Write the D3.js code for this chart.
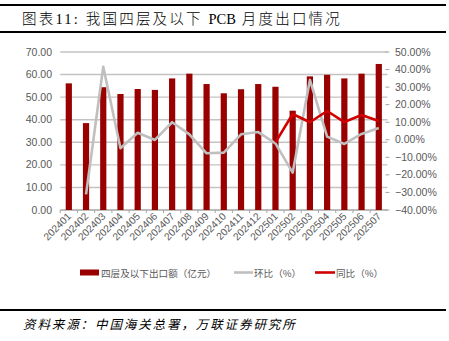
<!DOCTYPE html>
<html><head><meta charset="utf-8">
<script src="https://cdn.jsdelivr.net/npm/d3@7"></script>
<style>body{margin:0;background:#fff;}svg{display:block;}</style>
</head><body>
<svg id="c" width="449" height="341"></svg>
<script>
const categories = ["202401","202402","202403","202404","202405","202406","202407","202408","202409","202410","202411","202412","202501","202502","202503","202504","202505","202506","202507"];
const exportValues = [56.1,38.5,54.4,51.4,53.6,53.2,58.3,60.4,55.8,51.7,53.5,55.8,54.6,44.0,59.2,59.9,58.3,60.4,64.7];
const momValues = [null,-31.1,41.6,-4.8,4.0,-0.1,10.0,3.1,-7.7,-7.3,3.1,4.4,-2.0,-18.7,34.1,1.8,-2.4,3.3,6.7];
const yoyValues = [null,null,null,null,null,null,null,null,null,null,null,null,-1.5,14.7,10.0,16.4,10.1,14.1,10.7];
const leftTicks = [0,10,20,30,40,50,60,70];
const rightTicks = [-40,-30,-20,-10,0,10,20,30,40,50];
const legendLabels = ["四层及以下出口额（亿元）","环比（%）","同比（%）"];
const titleParts = ["图表11: 我国四层及以下 ","PCB"," 月度出口情况"];
const sourceText = "资料来源：中国海关总署，万联证券研究所";

(function(){
const svg = d3.select("#c");
const pL = 60.2, pR = 387.4, pT = 52, pB = 210;
const x = d3.scaleBand().domain(categories).range([pL, pR]).padding(0);
const yL = d3.scaleLinear().domain([0,70]).range([pB, pT]);
const yR = d3.scaleLinear().domain([-40,50]).range([pB, pT]);
const labelFont = "'Liberation Sans', Arial, sans-serif";
const cjk = "'Noto Sans CJK SC', sans-serif";

svg.append("rect").attr("x",0).attr("y",4).attr("width",446).attr("height",2).attr("fill","#000");
svg.append("rect").attr("x",0).attr("y",31).attr("width",446).attr("height",2).attr("fill","#000");
const tt = svg.append("text").attr("x",22).attr("y",24).attr("font-size",14.5)
  .attr("font-weight",300)
  .attr("font-family","'Liberation Serif', 'Noto Sans CJK SC', serif").attr("fill","#000");
tt.selectAll("tspan").data(titleParts).join("tspan")
  .attr("letter-spacing",(d,i)=>i===1?0:2.2).text(d=>d);

svg.append("g").selectAll("line").data(leftTicks).join("line")
  .attr("x1",pL).attr("x2",pR).attr("y1",d=>yL(d)).attr("y2",d=>yL(d))
  .attr("stroke",d=>d===0?"#a6a6a6":"#c3c3c3").attr("stroke-width",1.4);

svg.append("g").selectAll("text").data(leftTicks).join("text")
  .attr("x",52).attr("y",d=>yL(d)+3.5).attr("text-anchor","end")
  .attr("font-size",10.5).attr("font-family",labelFont).attr("fill","#595959")
  .text(d=>d3.format(".2f")(d));

svg.append("g").selectAll("line").data(rightTicks).join("line")
  .attr("x1",pR-2).attr("x2",pR+2).attr("y1",d=>yR(d)).attr("y2",d=>yR(d))
  .attr("stroke","#a6a6a6").attr("stroke-width",1);
svg.append("g").selectAll("text").data(rightTicks).join("text")
  .attr("x",395).attr("y",d=>yR(d)+3.5).attr("text-anchor","start")
  .attr("font-size",10.5).attr("font-family",labelFont).attr("fill","#595959")
  .text(d=>d3.format(".2f")(d)+"%");

const bw = 6.2;
svg.append("g").selectAll("rect").data(categories).join("rect")
  .attr("x",(d)=>x(d)+x.bandwidth()/2-bw/2).attr("width",bw)
  .attr("y",(d,i)=>yL(exportValues[i])).attr("height",(d,i)=>yL(0)-yL(exportValues[i]))
  .attr("fill","#990000");

svg.append("g").selectAll("line").data(categories).join("line")
  .attr("x1",d=>x(d)).attr("x2",d=>x(d)).attr("y1",pB).attr("y2",pB+3)
  .attr("stroke","#a6a6a6").attr("stroke-width",1);

svg.append("g").selectAll("text").data(categories).join("text")
  .attr("transform",d=>`translate(${x(d)+x.bandwidth()/2+3},${pB+7}) rotate(-45)`)
  .attr("text-anchor","end").attr("font-size",10.2).attr("font-family",labelFont).attr("fill","#595959")
  .text(d=>d);

const cx = d=>x(d)+x.bandwidth()/2;
const mk = (vals)=>d3.line().defined((d,i)=>vals[i]!==null).x(d=>cx(d)).y((d,i)=>yR(vals[i]));
svg.append("path").attr("d",mk(momValues)(categories)).attr("fill","none")
  .attr("stroke","#bfbfbf").attr("stroke-width",2.6).attr("stroke-linejoin","round");
svg.append("path").attr("d",mk(yoyValues)(categories)).attr("fill","none")
  .attr("stroke","#d00000").attr("stroke-width",2.6).attr("stroke-linejoin","round");

const lg = svg.append("g").attr("font-size",9.6).attr("font-family",cjk).attr("fill","#595959");
lg.append("rect").attr("x",80).attr("y",269.5).attr("width",19).attr("height",6).attr("fill","#990000");
lg.append("text").attr("x",101).attr("y",276.5).text(legendLabels[0]);
lg.append("line").attr("x1",234).attr("x2",253).attr("y1",272.5).attr("y2",272.5).attr("stroke","#bfbfbf").attr("stroke-width",2.6);
lg.append("text").attr("x",254).attr("y",276.5).text(legendLabels[1]);
lg.append("line").attr("x1",315).attr("x2",335).attr("y1",272.5).attr("y2",272.5).attr("stroke","#d00000").attr("stroke-width",2.6);
lg.append("text").attr("x",336).attr("y",276.5).text(legendLabels[2]);

svg.append("rect").attr("x",0).attr("y",309).attr("width",446).attr("height",2).attr("fill","#000");
svg.append("text").attr("x",23).attr("y",329).attr("font-size",12.5).attr("font-style","italic").attr("letter-spacing",1.9)
  .attr("font-family",cjk).attr("fill","#000").text(sourceText);
})();
</script>
</body></html>
